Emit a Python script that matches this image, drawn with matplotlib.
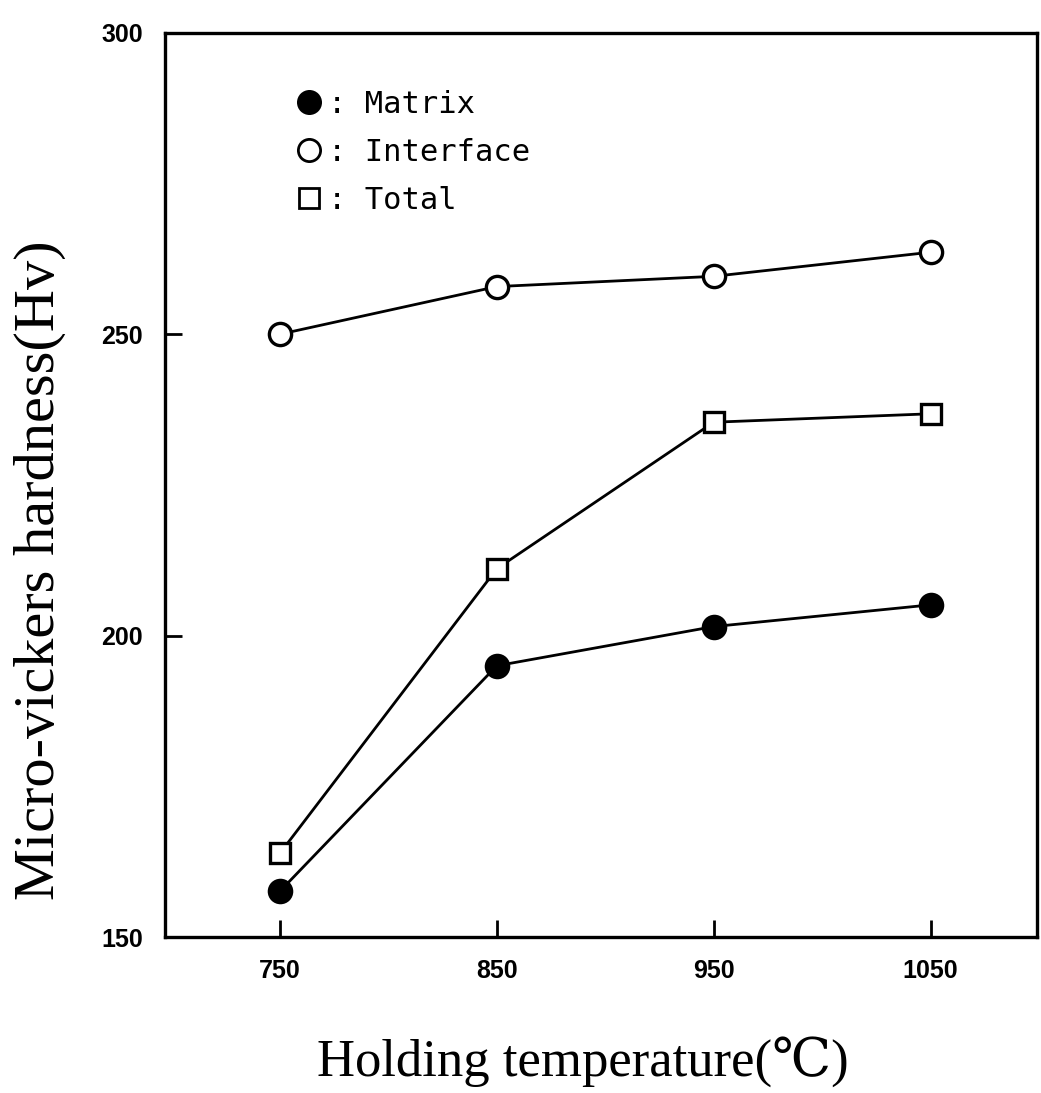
import numpy as np
import matplotlib.pyplot as plt
from matplotlib.lines import Line2D

temps = [750, 850, 950, 1050]
matrix = [157.6, 195.0, 201.5, 205.1]
interface = [250.0, 257.9, 259.6, 263.6]
total = [163.9, 211.1, 235.4, 236.8]

fig = plt.figure(figsize=(10.41, 10.93), dpi=100)
ax = fig.add_axes([0.1585, 0.1427, 0.8375, 0.8273])

ms = 16
lw = 2.0
ax.plot(temps, interface, '-o', color='black', lw=lw, ms=ms,
        mfc='white', mec='black', mew=2.4)
ax.plot(temps, total, '-s', color='black', lw=lw, ms=ms - 1,
        mfc='white', mec='black', mew=2.4)
ax.plot(temps, matrix, '-o', color='black', lw=lw, ms=ms,
        mfc='black', mec='black', mew=2.4)

ax.set_xlim(697, 1099)
ax.set_ylim(150, 300)
ax.set_xticks(temps)
ax.set_yticks([150, 200, 250, 300])

for s in ax.spines.values():
    s.set_linewidth(2.4)
ax.tick_params(direction='in', length=12, width=2, pad=16)
for lab in ax.get_xticklabels() + ax.get_yticklabels():
    lab.set_fontfamily('Liberation Sans')
    lab.set_fontsize(18)
    lab.set_fontweight('bold')

ax.set_xlabel('Holding temperature(℃)', family=['Liberation Serif', 'DejaVu Serif'],
              fontsize=38)
ax.set_ylabel('Micro-vickers hardness(Hv)', family=['Liberation Serif', 'DejaVu Serif'],
              fontsize=42)
ax.xaxis.set_label_coords(0.479, -0.138)
ax.yaxis.set_label_coords(-0.143, 0.406)
ax.xaxis.label.set_va('center')
ax.yaxis.label.set_va('center')

handles = [
    Line2D([], [], ls='none', marker='o', ms=ms, mfc='black', mec='black', mew=2),
    Line2D([], [], ls='none', marker='o', ms=ms, mfc='white', mec='black', mew=2),
    Line2D([], [], ls='none', marker='s', ms=ms - 1, mfc='white', mec='black', mew=2),
]
labels = [': Matrix', ': Interface', ': Total']
leg = ax.legend(handles, labels, loc='upper left', bbox_to_anchor=(0.12, 0.967),
                frameon=False, handlelength=0.8, handletextpad=0.2, labelspacing=0.62,
                prop={'family': 'DejaVu Sans Mono', 'size': 22})

fig.savefig('out.png', dpi=100)
